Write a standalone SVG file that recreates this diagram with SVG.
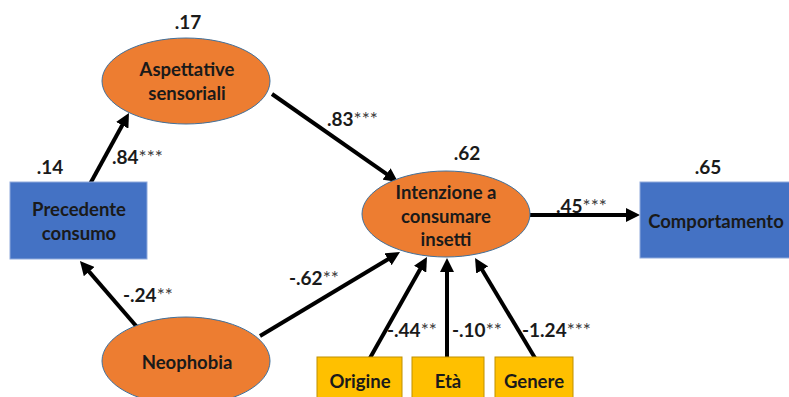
<svg xmlns="http://www.w3.org/2000/svg" width="789" height="397" viewBox="0 0 789 397">
<defs>
<style>
.ell{fill:#ED7D31;stroke:#41719C;stroke-width:1}
.blue{fill:#4472C4;stroke:#8FAADC;stroke-width:1}
.yel{fill:#FFC000;stroke:#BF9000;stroke-width:1}
.t{font-family:Lato,"Liberation Sans",sans-serif;font-weight:bold;font-size:18.5px;fill:#1a1a1a;text-anchor:middle}
.n{font-family:Lato,"Liberation Sans",sans-serif;font-weight:bold;font-size:19px;fill:#1a1a1a}
.c{text-anchor:middle}
.s{fill:#3a3a3a;font-weight:normal}
.e{stroke:#000;stroke-width:4;fill:none;marker-end:url(#ah)}
</style>
<marker id="ah" markerUnits="userSpaceOnUse" markerWidth="14" markerHeight="14" refX="2" refY="7" orient="auto">
<path d="M0,0 L14,7 L0,14 z" fill="#000"/>
</marker>
</defs>
<rect width="789" height="397" fill="#fff"/>
<g id="connectors">
<line class="e" x1="90" y1="184" x2="123.2" y2="123.5"/>
<line class="e" x1="272" y1="94" x2="388.2" y2="175.1"/>
<line class="e" x1="530" y1="215" x2="628" y2="215"/>
<line class="e" x1="137" y1="327" x2="87.8" y2="270.1"/>
<line class="e" x1="260" y1="336" x2="389.7" y2="258.2"/>
<line class="e" x1="370" y1="358" x2="421.1" y2="267.4"/>
<line class="e" x1="447" y1="358" x2="447" y2="270"/>
<line class="e" x1="535" y1="358" x2="481.2" y2="268.3"/>
</g>
<g id="aspettative">
<ellipse class="ell" cx="186" cy="81" rx="84" ry="43"/>
<text class="t" x="187" y="76">Aspettative</text>
<text class="t" x="187" y="100">sensoriali</text>
</g>
<g id="precedente">
<rect class="blue" x="10" y="182" width="137" height="77"/>
<text class="t" x="79" y="216">Precedente</text>
<text class="t" x="79" y="240">consumo</text>
</g>
<g id="intenzione">
<ellipse class="ell" cx="446" cy="214" rx="84" ry="43"/>
<text class="t" x="446" y="199">Intenzione a</text>
<text class="t" x="446" y="223">consumare</text>
<text class="t" x="446" y="246">insetti</text>
</g>
<g id="comportamento">
<rect class="blue" x="640" y="182" width="152" height="76"/>
<text class="t" x="716" y="228">Comportamento</text>
</g>
<g id="neophobia">
<ellipse class="ell" cx="186" cy="361" rx="84" ry="44"/>
<text class="t" x="187" y="369">Neophobia</text>
</g>
<g id="origine">
<rect class="yel" x="317" y="357" width="85" height="45"/>
<text class="t" x="360" y="388">Origine</text>
</g>
<g id="eta">
<rect class="yel" x="412" y="357" width="72" height="45"/>
<text class="t" x="448" y="388">Età</text>
</g>
<g id="genere">
<rect class="yel" x="495" y="357" width="78" height="45"/>
<text class="t" x="534" y="388">Genere</text>
</g>
<g id="labels">
<text class="n c" x="188" y="29">.17</text>
<text class="n c" x="50" y="174">.14</text>
<text class="n c" x="467" y="160">.62</text>
<text class="n c" x="708" y="174">.65</text>
<text class="n" x="112" y="164">.84<tspan class="s">***</tspan></text>
<text class="n" x="327" y="126">.83<tspan class="s">***</tspan></text>
<text class="n" x="556" y="213">.45<tspan class="s">***</tspan></text>
<text class="n" x="123" y="302">-.24<tspan class="s">**</tspan></text>
<text class="n" x="289" y="285">-.62<tspan class="s">**</tspan></text>
<text class="n" x="387" y="337">-.44<tspan class="s">**</tspan></text>
<text class="n" x="452" y="337">-.10<tspan class="s">**</tspan></text>
<text class="n" x="522" y="337">-1.24<tspan class="s">***</tspan></text>
</g>
</svg>
